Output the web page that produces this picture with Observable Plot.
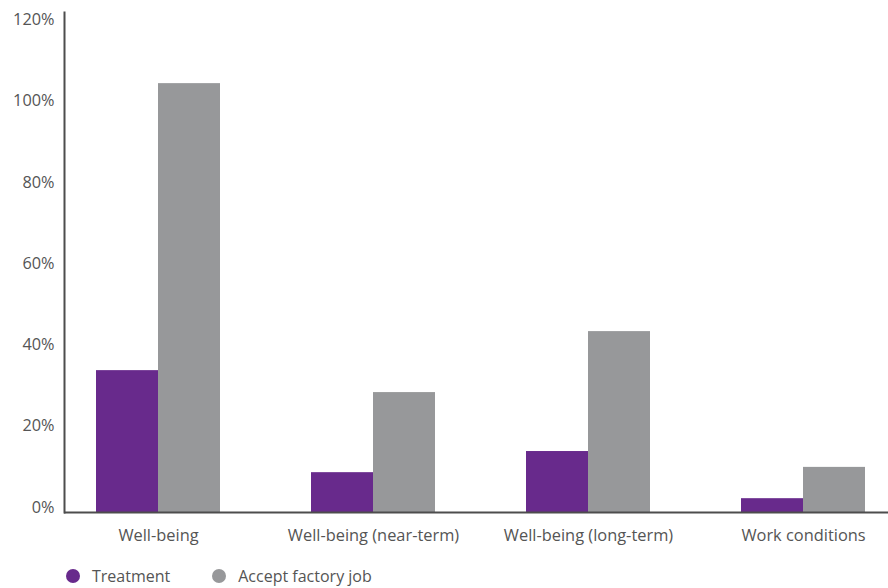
<!DOCTYPE html>
<html>
<head>
<meta charset="utf-8">
<script src="https://cdn.jsdelivr.net/npm/d3@7"></script>
<script src="https://cdn.jsdelivr.net/npm/@observablehq/plot@0.6"></script>
<style>
  body { margin: 0; background: #fff; font-family: "Open Sans", sans-serif; }
  #chart svg { display: block; }
  .legend { display: flex; align-items: center; height: 20px; margin-top: 11px; padding-left: 66px; color: #555; font-size: 16px; line-height: 20px; }
  .legend .item { display: flex; align-items: center; margin-right: 42px; }
  .legend .dot { width: 14px; height: 14px; border-radius: 50%; margin-right: 12px; }
</style>
</head>
<body>
<div id="chart"></div>
<script>
// Outcome categories and the two series measured for each
const categories = ["Well-being", "Well-being (near-term)", "Well-being (long-term)", "Work conditions"];
const treatment = [34.9, 9.8, 15.0, 3.4];
const acceptJob = [105.5, 29.5, 44.5, 11.1];
const seriesNames = ["Treatment", "Accept factory job"];
const seriesColors = ["#682a8c", "#97989a"];
const yTicks = [0, 20, 40, 60, 80, 100, 120];

const rows = categories.flatMap((c, i) => [
  {category: c, series: seriesNames[0], value: treatment[i]},
  {category: c, series: seriesNames[1], value: acceptJob[i]}
]);

const halfGroup = 31; // each bar sits on one side of the category centre

const chart = Plot.plot({
  width: 888,
  height: 555,
  marginTop: 12,
  marginBottom: 43,
  marginLeft: 64,
  marginRight: 0,
  style: {fontFamily: "'Open Sans', sans-serif", fontSize: "15px", color: "#555", background: "#fff"},
  x: {type: "band", domain: categories, paddingInner: 0.7121, paddingOuter: 0.2694, align: 0.535, label: null},
  y: {domain: [0, 123], label: null},
  color: {domain: seriesNames, range: seriesColors},
  marks: [
    Plot.barY(rows.filter(d => d.series === seriesNames[0]), {x: "category", y: "value", fill: "series", dx: -halfGroup}),
    Plot.barY(rows.filter(d => d.series === seriesNames[1]), {x: "category", y: "value", fill: "series", dx: halfGroup}),
    Plot.axisY({ticks: yTicks, tickFormat: d => d + "%", tickSize: 0, tickPadding: 10, dy: -5, label: null, fill: "#555", fontSize: 16.3}),
    Plot.axisX({tickSize: 0, tickPadding: 17, label: null, fill: "#555", fontSize: 16.4}),
    Plot.ruleY([0], {stroke: "#4d4d4d", strokeWidth: 2}),
    Plot.frame({anchor: "left", stroke: "#4d4d4d", strokeWidth: 2})
  ]
});
document.getElementById("chart").append(chart);

// Legend below the chart
const legend = document.createElement("div");
legend.className = "legend";
seriesNames.forEach((name, i) => {
  const item = document.createElement("span");
  item.className = "item";
  const dot = document.createElement("span");
  dot.className = "dot";
  dot.style.background = seriesColors[i];
  item.append(dot, document.createTextNode(name));
  legend.append(item);
});
document.body.append(legend);
</script>
</body>
</html>
